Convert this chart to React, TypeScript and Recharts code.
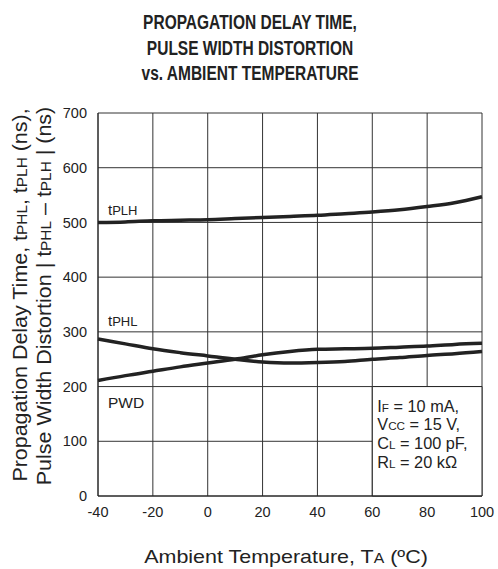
import React from 'react';
import { LineChart, Line, XAxis, YAxis, CartesianGrid, ReferenceArea, ReferenceDot } from 'recharts';

const temps = [-40, -30, -20, -10, 0, 10, 20, 30, 40, 50, 60, 70, 80, 90, 100];
const tplh = [500, 501, 503, 504, 505, 507, 509, 511, 513, 516, 519, 523, 529, 536, 547];
const tphl = [287, 278, 269, 262, 256, 250, 245, 243, 244, 246, 250, 253, 257, 260, 264];
const pwd = [211, 220, 228, 236, 243, 250, 258, 264, 268, 269, 270, 272, 274, 277, 279];

const xTicks = [-40, -20, 0, 20, 40, 60, 80, 100];
const yTicks = [0, 100, 200, 300, 400, 500, 600, 700];

const conditions = [
  ['I', 'F', ' = 10 mA,'],
  ['V', 'CC', ' = 15 V,'],
  ['C', 'L', ' = 100 pF,'],
  ['R', 'L', ' = 20 k\u03A9'],
];

const FONT = 'Arial, "Liberation Sans", sans-serif';
const INK = '#222';

const data = temps.map((t, i) => ({ t, tplh: tplh[i], tphl: tphl[i], pwd: pwd[i] }));

// t + small caps subscript, e.g. tPLH
const curveLabel = (main: string, sub: string, dy: number) => (props: any) => {
  const { viewBox } = props;
  const cx = viewBox.x + (viewBox.width || 0) / 2;
  const cy = viewBox.y + (viewBox.height || 0) / 2;
  return (
    <text x={cx + 10} y={cy + dy} fontFamily={FONT} fontSize={15} fill={INK}>
      {main}
      <tspan fontSize={13}>{sub}</tspan>
    </text>
  );
};

const conditionBox = (props: any) => {
  const { viewBox } = props;
  return (
    <text fontFamily={FONT} fontSize={16.3} fill={INK}>
      {conditions.map((c, i) => (
        <tspan key={i} x={viewBox.x + 5} y={viewBox.y + 25 + i * 18.7}>
          {c[0]}
          <tspan fontSize={11.7}>{c[1]}</tspan>
          <tspan fontSize={16.3}>{c[2]}</tspan>
        </tspan>
      ))}
    </text>
  );
};

export default function App() {
  return (
    <div style={{ position: 'absolute', left: 0, top: 0, width: 498, height: 569, background: '#fff' }}>
      <LineChart width={498} height={569} data={data} margin={{ top: 113, right: 16, bottom: 43, left: 0 }}>
        <CartesianGrid stroke="#333" strokeWidth={1} />
        <XAxis
          dataKey="t"
          type="number"
          domain={[-40, 100]}
          ticks={xTicks}
          tickLine={false}
          axisLine={{ stroke: INK }}
          height={30}
          tick={{ fontFamily: FONT, fontSize: 14.5, fill: INK }}
          tickMargin={5}
        />
        <YAxis
          type="number"
          domain={[0, 700]}
          ticks={yTicks}
          tickLine={false}
          axisLine={{ stroke: INK }}
          width={98}
          tick={{ fontFamily: FONT, fontSize: 14.5, fill: INK }}
          tickMargin={5}
        />
        <ReferenceArea x1={60} x2={100} y1={0} y2={200} fill="#fff" fillOpacity={1} stroke={INK} strokeWidth={1} label={{ content: conditionBox }} />
        <Line type="monotone" dataKey="tplh" stroke={INK} strokeWidth={3.5} dot={false} isAnimationActive={false} />
        <Line type="monotone" dataKey="tphl" stroke={INK} strokeWidth={3.5} dot={false} isAnimationActive={false} />
        <Line type="monotone" dataKey="pwd" stroke={INK} strokeWidth={3.5} dot={false} isAnimationActive={false} />
        <ReferenceDot x={-40} y={500} r={0} label={{ content: curveLabel('t', 'PLH', -7) }} />
        <ReferenceDot x={-40} y={300} r={0} label={{ content: curveLabel('t', 'PHL', -6) }} />
        <ReferenceDot x={-40} y={200} r={0} label={{ content: (p: any) => (
          <text x={p.viewBox.x + 10} y={p.viewBox.y + 21} fontFamily={FONT} fontSize={15.5} fill={INK}>PWD</text>
        ) }} />
      </LineChart>
      <svg width={498} height={569} style={{ position: 'absolute', left: 0, top: 0, pointerEvents: 'none' }}>
        <g fontFamily={FONT} fontWeight="bold" fontSize={15.5} fill={INK} textAnchor="middle">
          <text transform="translate(250,29) scale(1,1.35)">PROPAGATION DELAY TIME,</text>
          <text transform="translate(250,55) scale(1,1.35)">PULSE WIDTH DISTORTION</text>
          <text transform="translate(250,80) scale(1,1.35)">vs. AMBIENT TEMPERATURE</text>
        </g>
        <g fontFamily={FONT} fontSize={19.5} fill={INK} textAnchor="middle">
          <text transform="translate(27,295) rotate(-90) scale(1.1,1)">
            Propagation Delay Time, t<tspan fontSize={14}>PHL</tspan>, t<tspan fontSize={14}>PLH</tspan> (ns),
          </text>
          <text transform="translate(51,296) rotate(-90) scale(1.1,1)">
            Pulse Width Distortion | t<tspan fontSize={14}>PHL</tspan> – t<tspan fontSize={14}>PLH</tspan> | (ns)
          </text>
        </g>
        <text transform="translate(286,563) scale(1.13,1)" fontFamily={FONT} fontSize={19} fill={INK} textAnchor="middle">
          Ambient Temperature, T<tspan fontSize={14}>A</tspan> (ºC)
        </text>
      </svg>
    </div>
  );
}
